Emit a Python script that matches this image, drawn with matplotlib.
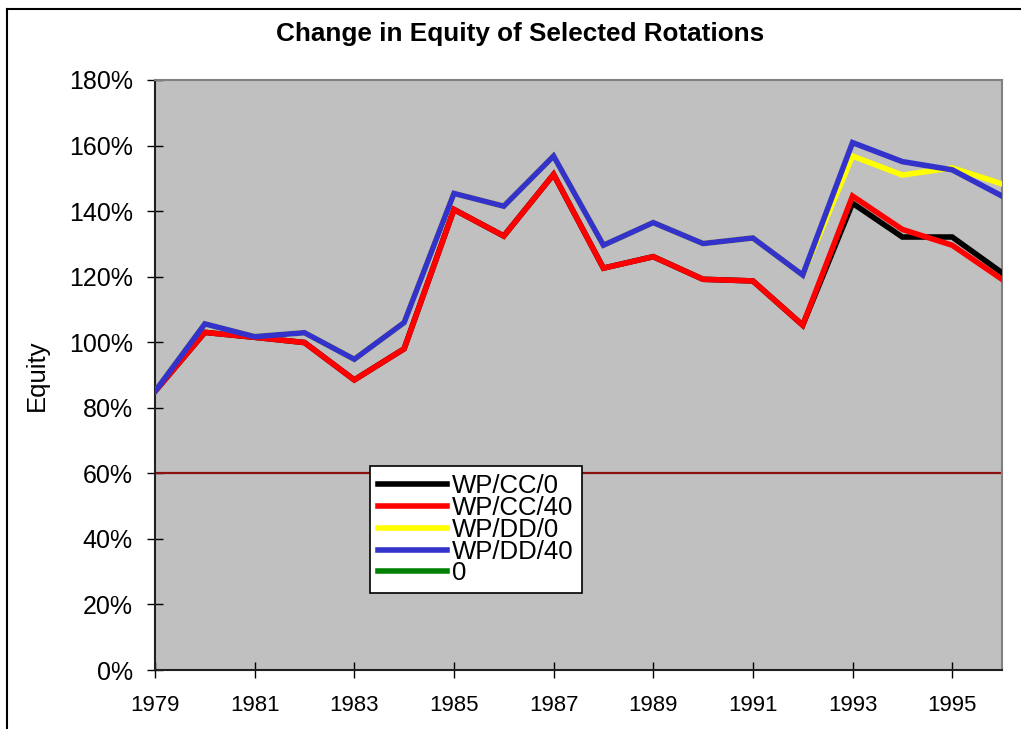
import matplotlib
matplotlib.use("Agg")
import matplotlib.pyplot as plt
from matplotlib.lines import Line2D
from matplotlib.ticker import FuncFormatter

plt.rcParams['font.family'] = ['Liberation Sans', 'DejaVu Sans']

years = list(range(1979, 1997))
wp_cc_0 = [85, 103, 101.5, 99.9, 88.5, 98, 140.5, 132.4, 151.2, 122.6, 126.1, 119.2, 118.7, 105.2, 142.4, 132.1, 132.1, 121.2]
wp_cc_40 = [85, 103, 101.5, 99.9, 88.5, 98, 140.5, 132.4, 151.2, 122.6, 126.1, 119.2, 118.7, 105.2, 144.6, 134.4, 129.6, 119.2]
wp_dd_0 = [85, 105.6, 101.7, 102.9, 94.8, 106, 145.4, 141.5, 156.8, 129.6, 136.5, 130.1, 131.8, 120.5, 156.8, 151.0, 153.2, 148.3]
wp_dd_40 = [85, 105.6, 101.7, 102.9, 94.8, 106, 145.4, 141.5, 156.8, 129.6, 136.5, 130.1, 131.8, 120.5, 160.9, 155.1, 152.6, 144.6]
ref_level = 60
series_labels = ['WP/CC/0', 'WP/CC/40', 'WP/DD/0', 'WP/DD/40', '0']
series_colors = ['#000000', '#ff0000', '#ffff00', '#3333cc', '#008000']
yticks = list(range(0, 181, 20))
xticks = list(range(1979, 1996, 2))

fig = plt.figure(figsize=(10.21, 7.29), dpi=100)
W, H = 1021, 729
ax = fig.add_axes([155 / W, 1 - 670 / H, (1002 - 155) / W, (670 - 80) / H])
ax.set_facecolor('#c0c0c0')

# figure frame (top and left borders)
fig.add_artist(Line2D([7 / W, 1.0], [1 - 9 / H, 1 - 9 / H], transform=fig.transFigure, color='black', lw=1.5))
fig.add_artist(Line2D([7 / W, 7 / W], [0, 1 - 9 / H], transform=fig.transFigure, color='black', lw=1.5))

ax.axhline(ref_level, color='#8b1010', lw=1.6, zorder=2)

data = [wp_cc_0, wp_cc_40, wp_dd_0, wp_dd_40]
zorders = [3, 4, 3, 4]
for i in range(4):
    ax.plot(years, data[i], color=series_colors[i], lw=4, solid_joinstyle='miter', zorder=zorders[i])

ax.set_xlim(1979, 1996)
ax.set_ylim(0, 180)
ax.set_xticks(xticks)
ax.set_yticks(yticks)
ax.yaxis.set_major_formatter(FuncFormatter(lambda v, p: f"{int(v)}%"))
ax.tick_params(axis='both', direction='inout', length=12, width=1, colors='black')
ax.tick_params(axis='x', pad=12, labelsize=16)
ax.tick_params(axis='y', pad=10, labelsize=18)

for s in ['top', 'right']:
    ax.spines[s].set_color('#808080')
    ax.spines[s].set_linewidth(1.5)
for s in ['left', 'bottom']:
    ax.spines[s].set_color('#202020')
    ax.spines[s].set_linewidth(1.5)

ax.set_ylabel('Equity', fontsize=18.5, labelpad=14)
fig.text(520 / W, 1 - 34 / H, 'Change in Equity of Selected Rotations', ha='center', va='center',
         fontsize=18.8, fontweight='bold')

handles = [Line2D([0], [0], color=c, lw=4) for c in series_colors]
leg = ax.legend(handles, series_labels, loc='upper left', bbox_to_anchor=((370 - 155) / 847, (670 - 466) / 590),
                fontsize=18.5, frameon=True, fancybox=False, edgecolor='black', framealpha=1,
                handlelength=2.7, handletextpad=0.2, labelspacing=-0.08, borderpad=0.3, borderaxespad=0)
leg.get_frame().set_linewidth(1.2)

fig.savefig('out.png', dpi=100)
